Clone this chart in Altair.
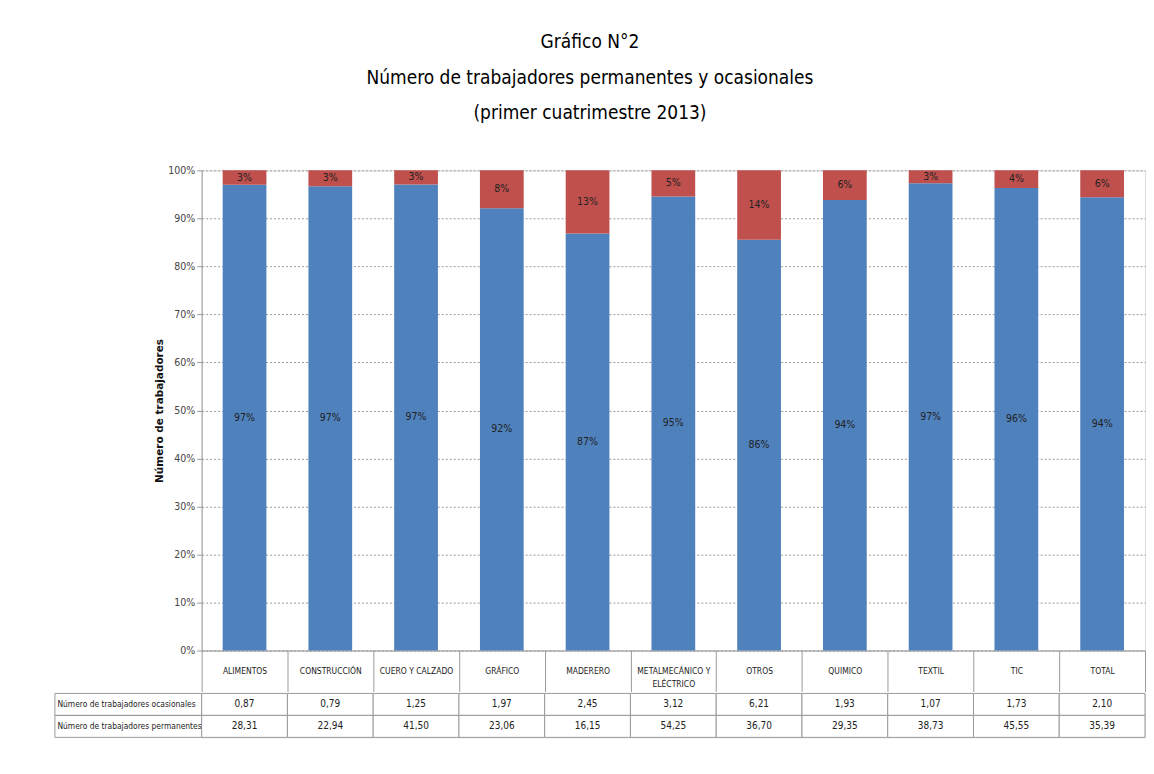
import altair as alt
import pandas as pd

categories = ["ALIMENTOS", "CONSTRUCCIÓN", "CUERO Y CALZADO", "GRÁFICO", "MADERERO",
              "METALMECÁNICO Y ELÉCTRICO", "OTROS", "QUIMICO", "TEXTIL", "TIC", "TOTAL"]
ocasionales = [0.87, 0.79, 1.25, 1.97, 2.45, 3.12, 6.21, 1.93, 1.07, 1.73, 2.10]
permanentes = [28.31, 22.94, 41.50, 23.06, 16.15, 54.25, 36.70, 29.35, 38.73, 45.55, 35.39]
series = ["Número de trabajadores permanentes", "Número de trabajadores ocasionales"]
row_names = ["Número de trabajadores ocasionales", "Número de trabajadores permanentes"]

FONT = "DejaVu Sans Condensed"
BLUE = "#4F81BD"
RED = "#C0504D"
GRID = "#9a9a9a"

rows = []
for c, o, p in zip(categories, ocasionales, permanentes):
    rows.append({"cat": c, "serie": series[0], "value": p, "ord": 0})
    rows.append({"cat": c, "serie": series[1], "value": o, "ord": 1})
df = pd.DataFrame(rows)

xscale = alt.Scale(domain=categories, paddingInner=0, paddingOuter=0)

base = alt.Chart(df).transform_stack(
    stack="value", groupby=["cat"], as_=["y0", "y1"], offset="normalize",
    sort=[alt.SortField("ord", order="ascending")]
).transform_calculate(
    mid="(datum.y0 + datum.y1) / 2"
).transform_joinaggregate(
    total="sum(value)", groupby=["cat"]
).transform_calculate(
    pct="datum.value / datum.total"
)

label_expr = ("datum.value == 'METALMECÁNICO Y ELÉCTRICO' ? "
              "['METALMECÁNICO Y', 'ELÉCTRICO'] : datum.value")

bars = base.mark_bar(width=alt.RelativeBandSize(0.51)).encode(
    x=alt.X("cat:N", scale=xscale, sort=categories,
            axis=alt.Axis(title=None, labelAngle=0, tickBand="extent", tickSize=41,
                          tickColor=GRID, domainColor=GRID, labelPadding=-20.5,
                          labelBaseline="middle", labelFont=FONT, labelFontSize=8.5,
                          labelColor="#222", labelLimit=0, labelExpr=label_expr,
                          labelLineHeight=13)),
    y=alt.Y("y0:Q", scale=alt.Scale(domain=[0, 1]),
            axis=alt.Axis(title="Número de trabajadores", format=".0%", values=[i / 10 for i in range(11)],
                          grid=True, gridColor=GRID, gridDash=[2, 2], domainColor=GRID,
                          tickColor=GRID, tickSize=5, labelFont=FONT, labelFontSize=10.5,
                          labelColor="#444", titleFont="DejaVu Sans", titleFontSize=10.5,
                          titleFontWeight="bold", titleColor="#111", titlePadding=3)),
    y2="y1:Q",
    color=alt.Color("serie:N", scale=alt.Scale(domain=series, range=[BLUE, RED]), legend=None),
)

texts = base.mark_text(font=FONT, fontSize=10.5, color="#222", baseline="middle").encode(
    x=alt.X("cat:N", scale=xscale, sort=categories),
    y=alt.Y("mid:Q"),
    text=alt.Text("pct:Q", format=".0%"),
)

top = alt.layer(bars, texts).properties(width=945, height=481)

trows = []
for c, o, p in zip(categories, ocasionales, permanentes):
    trows.append({"cat": c, "row": row_names[0], "v": o})
    trows.append({"cat": c, "row": row_names[1], "v": p})
tdf = pd.DataFrame(trows)

yscale = alt.Scale(domain=row_names, paddingInner=0, paddingOuter=0)

tbase = alt.Chart(tdf).transform_calculate(
    s="replace(format(datum.v, '.2f'), '.', ',')"
)

cells = tbase.mark_rect(fill="white", stroke=GRID, strokeWidth=1).encode(
    x=alt.X("cat:N", scale=xscale, sort=categories, axis=None),
    y=alt.Y("row:N", scale=yscale,
            axis=alt.Axis(title=None, domain=False, ticks=False, labelAlign="left",
                          labelPadding=145, labelFont=FONT, labelFontSize=8.4,
                          labelColor="#222", labelLimit=0)),
)

label_cells = alt.Chart(pd.DataFrame({"row": row_names})).mark_rect(
    fill="none", stroke=GRID, strokeWidth=1
).encode(
    x=alt.value(-147), x2=alt.value(0),
    y=alt.Y("row:N", scale=yscale),
)

ctext = tbase.mark_text(font=FONT, fontSize=10, color="#222").encode(
    x=alt.X("cat:N", scale=xscale, sort=categories),
    y=alt.Y("row:N", scale=yscale),
    text="s:N",
)

table = alt.layer(label_cells, cells, ctext).properties(width=945, height=44)

chart = alt.vconcat(top, table, spacing=0).properties(
    title=alt.TitleParams(
        ["Gráfico N°2", "Número de trabajadores permanentes y ocasionales", "(primer cuatrimestre 2013)"],
        font=FONT, fontSize=19, fontWeight="normal", color="#000", lineHeight=35.5,
        anchor="middle", offset=42, dx=-10,
    ),
    padding={"left": 46, "top": 24, "right": 0, "bottom": 5},
).configure_view(stroke=None).configure(background="white")

chart.save("out.html", embed_options={"renderer": "svg", "actions": False})
